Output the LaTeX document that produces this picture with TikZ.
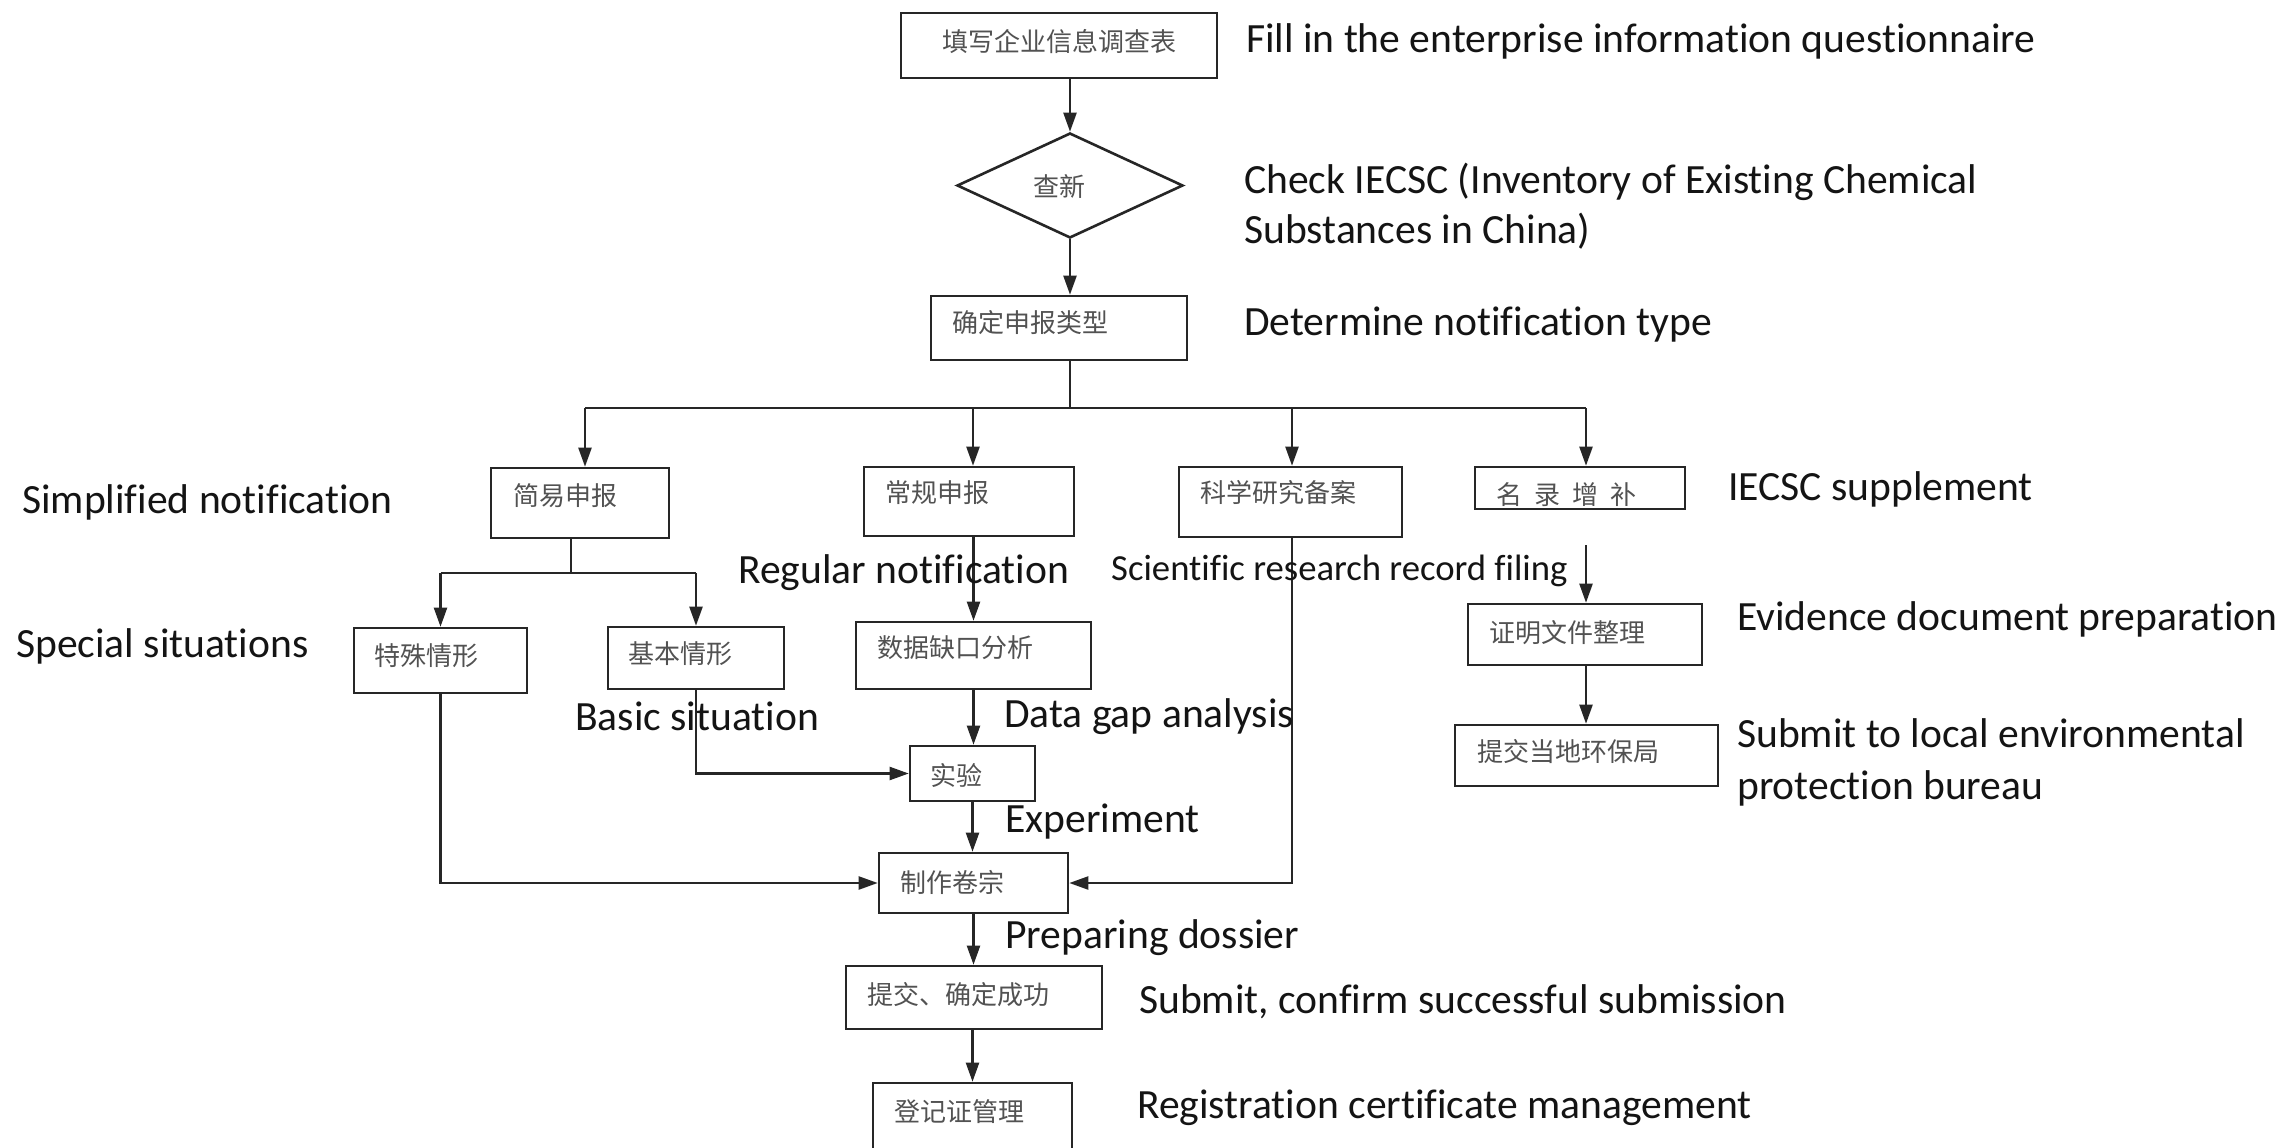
\documentclass[tikz,border=0pt]{standalone}
\usepackage{fontspec}
\setmainfont{Carlito}[Ligatures={NoCommon}]
\newfontfamily\cjk{Noto Sans CJK SC}
\usetikzlibrary{arrows.meta,shapes.geometric}
\begin{document}
\begin{tikzpicture}[x=1pt,y=-1pt,
  box/.style={draw=black!85, line width=2.6pt, rectangle, inner sep=0pt},
  cn/.style={inner sep=0pt, anchor=west, text=black!68, font=\cjk\fontsize{26}{30}\selectfont},
  en/.style={inner sep=0pt, anchor=base west, text=black!92, font=\fontsize{41.6}{50}\selectfont},
  ensm/.style={en, font=\fontsize{36.7}{44}\selectfont},
  link/.style={draw=black!85, line width=2.2pt},
  arr/.style={link, -{Triangle[length=19pt,width=13pt]}},
]
\useasboundingbox (0,0) rectangle (2287,1148);
\fill[white] (0,0) rectangle (2287,1148);
\clip (0,0) rectangle (2287,1148);

% ---- boxes ----
\node[box, minimum width=316, minimum height=65] (q1) at (1059,45.5) {};
\node[box, shape=diamond, minimum width=226, minimum height=105] (d) at (1070,185.5) {};
\node[box, minimum width=256, minimum height=64] (q3) at (1059,328) {};
\node[box, minimum width=178, minimum height=70] (jy) at (580,503) {};
\node[box, minimum width=210, minimum height=69] (cg) at (969,501.5) {};
\node[box, minimum width=223, minimum height=70] (ky) at (1290.5,502) {};
\node[box, minimum width=210, minimum height=42] (ml) at (1580,488) {};
\node[box, minimum width=173, minimum height=65] (ts) at (440.5,660.5) {};
\node[box, minimum width=176, minimum height=62] (jb) at (696,658) {};
\node[box, minimum width=235, minimum height=67] (sj) at (973.5,655.5) {};
\node[box, minimum width=125, minimum height=55] (sy) at (972.5,773.5) {};
\node[box, minimum width=189, minimum height=60] (zz) at (973.5,883) {};
\node[box, minimum width=256, minimum height=63] (tj) at (974,997.5) {};
\node[box, minimum width=199, minimum height=78] (dj) at (972.5,1122) {};
\node[box, minimum width=234, minimum height=61] (zm) at (1585,634.5) {};
\node[box, minimum width=263, minimum height=61] (tjd) at (1586.5,755.5) {};

% ---- box texts ----
\node[cn] (q1t) at (942,42) {填写企业信息调查表};
\node[cn, anchor=center] (dt) at (1059,187) {查新};
\node[cn] (q3t) at (952,323) {确定申报类型};
\node[cn] (jyt) at (513,496) {简易申报};
\node[cn] (cgt) at (885,493) {常规申报};
\node[cn] (kyt) at (1200,493) {科学研究备案};
\node[cn] (mlt) at (1496,495) {名\hspace{12pt}录\hspace{12pt}增\hspace{12pt}补};
\node[cn] (tst) at (374,656) {特殊情形};
\node[cn] (jbt) at (628,654) {基本情形};
\node[cn] (sjt) at (877,648) {数据缺口分析};
\node[cn] (syt) at (930,775) {实验};
\node[cn] (zzt) at (900,882) {制作卷宗};
\node[cn] (tjt) at (867,995) {提交、确定成功};
\node[cn] (djt) at (894,1112) {登记证管理};
\node[cn] (zmt) at (1489,633) {证明文件整理};
\node[cn] (tjdt) at (1477,752) {提交当地环保局};

% ---- junction points ----
\coordinate (b0) at (1070,408);
\coordinate (bj) at (585,408);
\coordinate (bc) at (973,408);
\coordinate (bk) at (1292,408);
\coordinate (bm) at (1586,408);
\coordinate (s0) at (571,573);
\coordinate (sl) at (440.5,573);
\coordinate (sr) at (696,573);
\coordinate (mlgap) at (1586,545);

% ---- connectors ----
\draw[arr] (q1.south -| d.north) -- (d.north);
\draw[arr] (d.south) -- (d.south |- q3.north);
\draw[link] (q3.south -| b0) -- (b0);
\draw[link] (bj) -- (bm);
\draw[arr] (bj) -- (bj |- jy.north);
\draw[arr] (bc) -- (bc |- cg.north);
\draw[arr] (bk) -- (bk |- ky.north);
\draw[arr] (bm) -- (bm |- ml.north);

\draw[link] (jy.south -| s0) -- (s0);
\draw[link] (sl) -- (sr);
\draw[arr] (sl) -- (ts.north);
\draw[arr] (sr) -- (jb.north);

\draw[arr] (cg.south -| sj.north) -- (sj.north);
\draw[arr] (sj.south) -- (sj.south |- sy.north);
\draw[arr] (jb.south) |- (sy.west);
\draw[arr] (sy.south) -- (sy.south |- zz.north);
\draw[arr] (ts.south) |- (zz.west);
\draw[arr] (ky.south -| bk) |- (zz.east);
\draw[arr] (zz.south) -- (zz.south |- tj.north);
\draw[arr] (tj.south -| dj.north) -- (dj.north);

\draw[arr] (mlgap) -- (mlgap |- zm.north);
\draw[arr] (zm.south -| mlgap) -- (mlgap |- tjd.north);

% ---- English captions ----
\node[en] (l1) at (1246,53) {Fill in the enterprise information questionnaire};
\node[en] (l2a) at (1244,193) {Check IECSC (Inventory of Existing Chemical};
\node[en] (l2b) at (1244,243) {Substances in China)};
\node[en] (l3) at (1244,335) {Determine notification type};
\node[en] (l4) at (22,513) {Simplified notification};
\node[en] (l5) at (738,583) {Regular notification};
\node[ensm] (l6) at (1111,580) {Scientific research record filing};
\node[en] (l7) at (1728,500) {IECSC supplement};
\node[en] (l8) at (16,657) {Special situations};
\node[en] (l9) at (575,730) {Basic situation};
\node[en] (l10) at (1004,727) {Data gap analysis};
\node[en] (l11) at (1737,630) {Evidence document preparation};
\node[en] (l12a) at (1737,747) {Submit to local environmental};
\node[en] (l12b) at (1737,799) {protection bureau};
\node[en] (l13) at (1005,832) {Experiment};
\node[en] (l14) at (1005,948) {Preparing dossier};
\node[en] (l15) at (1139,1013) {Submit, confirm successful submission};
\node[en] (l16) at (1137,1118) {Registration certificate management};
\end{tikzpicture}
\end{document}
